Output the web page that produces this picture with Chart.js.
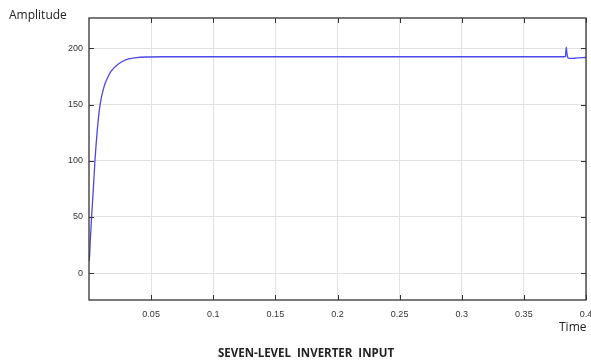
<!DOCTYPE html>
<html>
<head>
<meta charset="utf-8">
<script src="https://cdn.jsdelivr.net/npm/chart.js@4.4.1/dist/chart.umd.min.js"></script>
<style>
  html, body { margin: 0; padding: 0; background: #fff; }
  #wrap { width: 591px; height: 364px; position: relative; }
</style>
</head>
<body>
<div id="wrap"><canvas id="c"></canvas></div>
<script>
// values
const timeValues = [0.0002, 0.0006, 0.001, 0.0015, 0.0021, 0.0035, 0.0048, 0.0065, 0.0088, 0.012, 0.015, 0.018,
  0.0236, 0.030, 0.038, 0.046, 0.06, 0.1, 0.2, 0.3, 0.383, 0.3835, 0.3841, 0.3847, 0.3855, 0.3865, 0.388, 0.392, 0.397, 0.4];
const amplitudeValues = [11, 18, 28, 38, 50, 75, 100, 125, 149, 165.5, 174, 180,
  186, 190, 191.7, 192.3, 192.5, 192.5, 192.5, 192.5, 192.5, 193, 201, 195, 191.5, 191, 191, 191.3, 191.7, 191.9];
const xTicks = [0.05, 0.1, 0.15, 0.2, 0.25, 0.3, 0.35, 0.4];
const yTicks = [0, 50, 100, 150, 200];
const yLabel = 'Amplitude';
const xLabel = 'Time';
const caption = 'SEVEN-LEVEL  INVERTER  INPUT';

const points = timeValues.map((t, i) => ({ x: t, y: amplitudeValues[i] }));

// MATLAB-style frame: box, inward tick marks, loose labels
const scopeFrame = {
  id: 'scopeFrame',
  afterDraw(chart) {
    const { ctx, chartArea: a, scales } = chart;
    ctx.save();
    ctx.strokeStyle = '#333';
    ctx.lineWidth = 1.3;
    ctx.strokeRect(a.left, a.top, a.right - a.left, a.bottom - a.top);
    ctx.lineWidth = 1;
    xTicks.forEach(v => {
      const x = Math.round(scales.x.getPixelForValue(v)) + 0.5;
      ctx.beginPath();
      ctx.moveTo(x, a.bottom); ctx.lineTo(x, a.bottom - 5);
      ctx.moveTo(x, a.top); ctx.lineTo(x, a.top + 5);
      ctx.stroke();
    });
    yTicks.forEach(v => {
      const y = Math.round(scales.y.getPixelForValue(v)) + 0.5;
      ctx.beginPath();
      ctx.moveTo(a.left, y); ctx.lineTo(a.left + 5, y);
      ctx.moveTo(a.right, y); ctx.lineTo(a.right - 5, y);
      ctx.stroke();
    });
    ctx.fillStyle = '#222';
    ctx.font = '12px "Open Sans", "DejaVu Sans", sans-serif';
    ctx.textBaseline = 'middle';
    ctx.textAlign = 'left';
    ctx.fillText(yLabel, 9, 16);
    ctx.fillText(xLabel, 559, 328);
    ctx.font = 'bold 11.5px "Open Sans", "DejaVu Sans", sans-serif';
    ctx.textAlign = 'center';
    ctx.fillText(caption, 306, 354);
    ctx.restore();
  }
};

new Chart(document.getElementById('c'), {
  type: 'line',
  data: {
    datasets: [{
      label: yLabel,
      data: points,
      borderColor: '#4a4ae6',
      borderWidth: 1.3,
      pointRadius: 0,
      fill: false,
      cubicInterpolationMode: 'monotone'
    }]
  },
  options: {
    responsive: true,
    maintainAspectRatio: false,
    animation: false,
    layout: { padding: { top: 18, right: 5, bottom: 0, left: 0 } },
    plugins: {
      legend: { display: false },
      tooltip: { enabled: false }
    },
    scales: {
      x: {
        type: 'linear',
        min: 0,
        max: 0.4,
        afterFit: s => { s.height = 64; s.paddingRight = 0; s.paddingLeft = 0; },
        afterBuildTicks: s => { s.ticks = xTicks.map(v => ({ value: v })); },
        grid: { color: '#e2e2e2', drawTicks: false },
        border: { display: false },
        ticks: {
          padding: 9,
          color: '#333',
          font: { family: 'Arial, "Liberation Sans", sans-serif', size: 9 },
          maxRotation: 0,
          callback: v => String(v)
        }
      },
      y: {
        min: -24,
        max: 227,
        afterFit: s => { s.width = 89; s.paddingTop = 0; s.paddingBottom = 0; },
        afterBuildTicks: s => { s.ticks = yTicks.map(v => ({ value: v })); },
        grid: { color: '#e2e2e2', drawTicks: false },
        border: { display: false },
        ticks: {
          padding: 6,
          color: '#333',
          font: { family: 'Arial, "Liberation Sans", sans-serif', size: 9 }
        }
      }
    }
  },
  plugins: [scopeFrame]
});
</script>
</body>
</html>
